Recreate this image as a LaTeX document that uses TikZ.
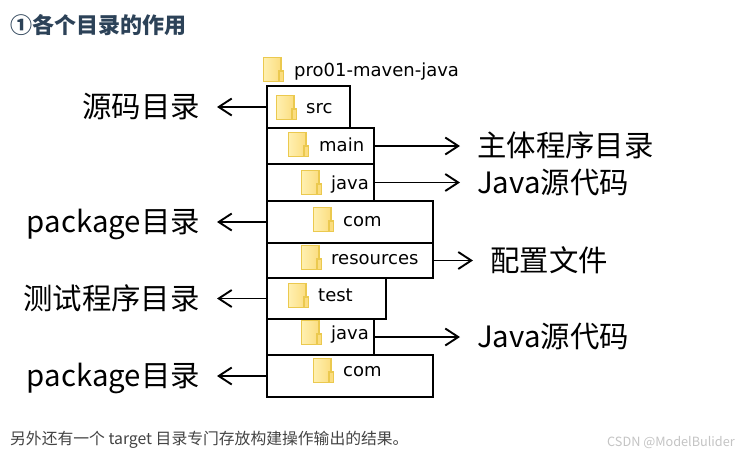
\documentclass[tikz,border=0pt]{standalone}
\usepackage{fontspec}
\setmainfont{Noto Sans CJK SC}
\newfontfamily\treefont{DejaVu Sans}
\usepackage{xcolor}
\usetikzlibrary{positioning,calc,arrows.meta}
\definecolor{folderedge}{HTML}{EBC94F}
\definecolor{folderlight}{HTML}{FFF0B0}
\definecolor{folderdark}{HTML}{FBDD80}
\definecolor{titleink}{HTML}{2C4258}
\definecolor{noteink}{HTML}{444444}
\definecolor{markink}{HTML}{C4C4C4}

\begin{document}
\begin{tikzpicture}[
  x=1pt, y=-1pt,
  box/.style={draw, line width=2pt, anchor=north west, inner sep=0pt, outer sep=0pt},
  dirname/.style={anchor=base west, inner sep=0pt, text=black,
    font=\treefont\fontsize{18}{20}\selectfont},
  lbl/.style={inner xsep=17pt, inner ysep=0pt, text height=27pt, text depth=6pt,
    font=\fontsize{29.4}{32}\selectfont},
  arr/.style={-{Straight Barb[length=13pt,width=17pt,line width=1.9pt]}, line width=1.9pt},
  folder/.pic={
    \draw[folderedge, line width=1.3pt, left color=folderlight, right color=folderdark]
      (0.7,0.7) rectangle (18,24.3);
    \draw[folderedge, line width=1.2pt, fill=folderdark] (16,14) rectangle (20.3,24.3);
  }
]
\useasboundingbox[fill=white] (0,0) rectangle (740,456);

% ---- Title ----
\node[anchor=west, inner sep=0pt, text=titleink, font=\bfseries\fontsize{22}{24}\selectfont]
  (title) at (10,25) {①各个目录的作用};

% ---- Boxes (bottom ones first, upper edges stay on top) ----
\node[box, minimum width=83pt, minimum height=42pt] (src) at (267,86) {};
\node[box, minimum width=107pt, minimum height=36pt] (main) at (267,128) {};
\node[box, minimum width=107pt, minimum height=37pt] (java) at (267,164) {};
\node[box, minimum width=166pt, minimum height=42pt] (com) at (267,201) {};
\node[box, minimum width=166pt, minimum height=35pt] (res) at (267,243) {};
\node[box, minimum width=119pt, minimum height=41pt] (test) at (267,278) {};
\node[box, minimum width=107pt, minimum height=36pt] (tjava) at (267,319) {};
\node[box, minimum width=166pt, minimum height=42pt] (tcom) at (267,355) {};

% ---- Folders and names ----
\pic at (263,57) {folder};
\node[dirname] (root) at (294,76) {pro01-maven-java};
\pic at (276,95) {folder};
\node[dirname] (srcname) at (306,113) {src};
\pic at (288,132) {folder};
\node[dirname] (mainname) at (319,151) {main};
\pic at (301,170) {folder};
\node[dirname] (javaname) at (331,189) {java};
\pic at (313,207) {folder};
\node[dirname] (comname) at (343,226) {com};
\pic at (301,245) {folder};
\node[dirname] (resname) at (331,264) {resources};
\pic at (288,283) {folder};
\node[dirname] (testname) at (318,301) {test};
\pic at (301,320) {folder};
\node[dirname] (tjavaname) at (331,339) {java};
\pic at (313,358) {folder};
\node[dirname] (tcomname) at (343,376) {com};

% ---- Labels, left ----
\node[lbl, anchor=east] (srclbl) at (217,107) {源码目录};
\node[lbl, anchor=east] (comlbl) at (217,222) {package目录};
\node[lbl, anchor=east] (testlbl) at (217,298.5) {测试程序目录};
\node[lbl, anchor=east] (tcomlbl) at (217,376) {package目录};

% ---- Labels, right ----
\node[lbl, anchor=west] (mainlbl) at (460,146) {主体程序目录};
\node[lbl, anchor=west] (javalbl) at (460,182.5) {Java源代码};
\node[lbl, anchor=west] (reslbl) at (473,260.5) {配置文件};
\node[lbl, anchor=west] (tjavalbl) at (460,337) {Java源代码};

% ---- Arrows ----
\draw[arr] (src) -- (srclbl);
\draw[arr] (com) -- (comlbl);
\draw[arr] (test) -- (testlbl);
\draw[arr] (tcom) -- (tcomlbl);
\draw[arr] (main) -- (mainlbl);
\draw[arr] (java) -- (javalbl);
\draw[arr] (res) -- (reslbl);
\draw[arr] (tjava) -- (tjavalbl);

% ---- Footer ----
\node[anchor=west, inner sep=0pt, text=noteink, font=\fontsize{15.8}{18}\selectfont]
  (note) at (10,440) {另外还有一个 target 目录专门存放构建操作输出的结果。};
\node[anchor=west, inner sep=0pt, text=markink, font=\fontsize{12.7}{14}\selectfont]
  (mark) at (607,443) {CSDN @ModelBulider};
\end{tikzpicture}
\end{document}
